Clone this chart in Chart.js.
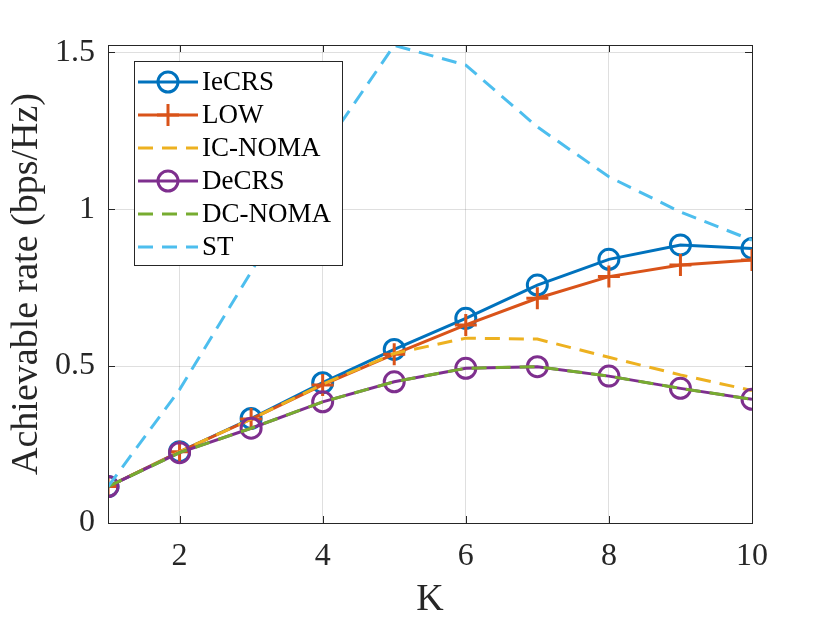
<!DOCTYPE html>
<html>
<head>
<meta charset="utf-8">
<script src="https://cdn.jsdelivr.net/npm/chart.js@4"></script>
<style>
  body { margin: 0; background: #fff; }
  canvas { display: block; }
</style>
</head>
<body>
<canvas id="rateChart" width="830" height="623"></canvas>
<script>
var K = [1, 2, 3, 4, 5, 6, 7, 8, 9, 10];
var ieCRS   = [0.116, 0.227, 0.333, 0.447, 0.553, 0.652, 0.758, 0.840, 0.886, 0.875];
var low     = [0.116, 0.227, 0.331, 0.440, 0.538, 0.631, 0.716, 0.785, 0.822, 0.838];
var icNOMA  = [0.116, 0.227, 0.331, 0.442, 0.540, 0.589, 0.586, 0.528, 0.472, 0.422];
var deCRS   = [0.116, 0.224, 0.302, 0.386, 0.450, 0.493, 0.498, 0.468, 0.429, 0.394];
var dcNOMA  = [0.116, 0.224, 0.302, 0.386, 0.450, 0.493, 0.498, 0.468, 0.429, 0.394];
var st      = [0.116, 0.425, 0.800, 1.190, 1.522, 1.459, 1.262, 1.103, 0.991, 0.901];
var xTicks = [2, 4, 6, 8, 10];
var yTicks = [0, 0.5, 1, 1.5];

var SERIF = "'Liberation Serif', 'Times New Roman', serif";
var AXIS = '#262626';

function pts(ys) {
  return ys.map(function (y, i) { return { x: K[i], y: y }; });
}

// MATLAB style box, inward ticks and legend
var matlabBox = {
  id: 'matlabBox',
  afterDatasetsDraw: function (chart) {
    var ctx = chart.ctx, a = chart.chartArea;
    var xs = chart.scales.x, ys = chart.scales.y;
    ctx.save();
    ctx.strokeStyle = AXIS;
    ctx.lineWidth = 1;
    ctx.setLineDash([]);
    ctx.strokeRect(a.left + 0.5, a.top + 0.5, a.right - a.left, a.bottom - a.top);
    ctx.beginPath();
    xTicks.forEach(function (v) {
      var px = Math.round(xs.getPixelForValue(v)) + 0.5;
      ctx.moveTo(px, a.bottom); ctx.lineTo(px, a.bottom - 7);
      ctx.moveTo(px, a.top); ctx.lineTo(px, a.top + 7);
    });
    yTicks.forEach(function (v) {
      var py = Math.round(ys.getPixelForValue(v)) + 0.5;
      ctx.moveTo(a.left, py); ctx.lineTo(a.left + 7, py);
      ctx.moveTo(a.right, py); ctx.lineTo(a.right - 7, py);
    });
    ctx.stroke();

    // legend
    var bx = 134, by = 61, bw = 208, bh = 204;
    ctx.fillStyle = '#fff';
    ctx.fillRect(bx, by, bw, bh);
    ctx.strokeStyle = AXIS;
    ctx.strokeRect(bx + 0.5, by + 0.5, bw, bh);
    ctx.font = '27px ' + SERIF;
    ctx.textBaseline = 'middle';
    ctx.textAlign = 'left';
    chart.data.datasets.forEach(function (ds, i) {
      var cy = 82 + i * 33;
      ctx.strokeStyle = ds.borderColor;
      ctx.lineWidth = ds.borderWidth;
      ctx.setLineDash(ds.borderDash || []);
      ctx.beginPath();
      ctx.moveTo(138, cy); ctx.lineTo(198, cy);
      ctx.stroke();
      ctx.setLineDash([]);
      if (ds.pointRadius > 0) {
        ctx.beginPath();
        if (ds.pointStyle === 'cross') {
          ctx.moveTo(168 - 11, cy); ctx.lineTo(168 + 11, cy);
          ctx.moveTo(168, cy - 11); ctx.lineTo(168, cy + 11);
        } else {
          ctx.arc(168, cy, ds.pointRadius, 0, Math.PI * 2);
        }
        ctx.stroke();
      }
      ctx.fillStyle = '#000';
      ctx.fillText(ds.label, 202, cy + 1);
    });
    ctx.restore();
  }
};

var ctx = document.getElementById('rateChart').getContext('2d');
var rateChart = new Chart(ctx, {
  type: 'line',
  data: {
    datasets: [
      { label: 'IeCRS', data: pts(ieCRS), borderColor: '#0072BD', borderWidth: 3,
        pointStyle: 'circle', pointRadius: 10, pointBorderWidth: 3,
        pointBackgroundColor: 'rgba(0,0,0,0)', order: 6 },
      { label: 'LOW', data: pts(low), borderColor: '#D95319', borderWidth: 3,
        pointStyle: 'cross', pointRadius: 11, pointBorderWidth: 3, order: 5 },
      { label: 'IC-NOMA', data: pts(icNOMA), borderColor: '#EDB120', borderWidth: 3,
        borderDash: [15, 9], pointRadius: 0, order: 4 },
      { label: 'DeCRS', data: pts(deCRS), borderColor: '#7E2F8E', borderWidth: 3,
        pointStyle: 'circle', pointRadius: 10, pointBorderWidth: 3,
        pointBackgroundColor: 'rgba(0,0,0,0)', order: 3 },
      { label: 'DC-NOMA', data: pts(dcNOMA), borderColor: '#77AC30', borderWidth: 3,
        borderDash: [15, 9], pointRadius: 0, order: 2 },
      { label: 'ST', data: pts(st), borderColor: '#4DBEEE', borderWidth: 3,
        borderDash: [15, 9], pointRadius: 0, order: 1 }
    ]
  },
  options: {
    responsive: false,
    animation: false,
    devicePixelRatio: 1,
    layout: { padding: { top: 45, right: 78, left: 0, bottom: 0 } },
    plugins: { legend: { display: false }, tooltip: { enabled: false } },
    elements: { line: { tension: 0, fill: false } },
    scales: {
      x: {
        type: 'linear', min: 1, max: 10,
        afterFit: function (s) { s.height = 100; },
        afterBuildTicks: function (s) { s.ticks = xTicks.map(function (v) { return { value: v }; }); },
        grid: { color: 'rgba(38,38,38,0.15)', drawTicks: false },
        border: { display: false },
        ticks: { color: AXIS, font: { family: SERIF, size: 32 }, padding: 14, maxRotation: 0 },
        title: { display: true, text: 'K', color: AXIS,
                 font: { family: SERIF, size: 38 }, padding: { top: 0, bottom: 0 } }
      },
      y: {
        type: 'linear', min: 0, max: 1.523,
        afterFit: function (s) { s.width = 108; },
        afterBuildTicks: function (s) { s.ticks = yTicks.map(function (v) { return { value: v }; }); },
        grid: { color: 'rgba(38,38,38,0.15)', drawTicks: false },
        border: { display: false },
        ticks: { color: AXIS, font: { family: SERIF, size: 32 }, padding: 13,
                 callback: function (v) { return String(v); } },
        title: { display: true, text: 'Achievable rate (bps/Hz)', color: AXIS,
                 font: { family: SERIF, size: 38 }, padding: { top: 4, bottom: 0 } }
      }
    }
  },
  plugins: [matlabBox]
});
</script>
</body>
</html>
